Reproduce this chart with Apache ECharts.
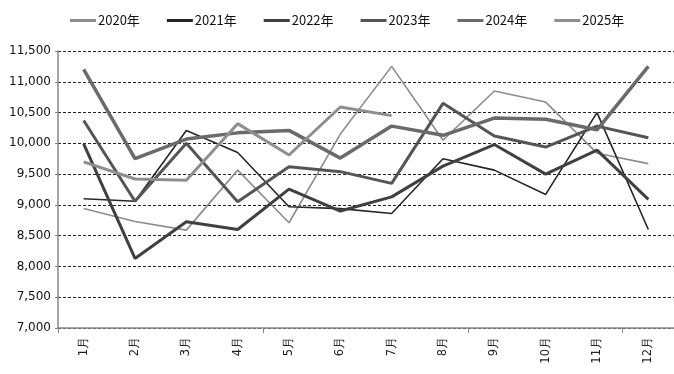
<!DOCTYPE html>
<html><head><meta charset="utf-8">
<script src="https://cdn.jsdelivr.net/npm/echarts@6/dist/echarts.min.js"></script>
<style>html,body{margin:0;padding:0;background:#fff}#c{width:674px;height:374px}</style>
</head><body><div id="c"></div>
<script>
const categories = ['1月','2月','3月','4月','5月','6月','7月','8月','9月','10月','11月','12月'];
const y2020 = [8940, 8730, 8590, 9565, 8710, 10150, 11250, 10050, 10850, 10670, 9840, 9670];
const y2021 = [9100, 9060, 10210, 9850, 8970, 8940, 8860, 9750, 9565, 9170, 10500, 8600];
const y2022 = [9990, 8130, 8725, 8600, 9255, 8900, 9130, 9630, 9980, 9500, 9890, 9090];
const y2023 = [10370, 9060, 10000, 9050, 9620, 9540, 9350, 10650, 10120, 9940, 10280, 10090];
const y2024 = [11200, 9750, 10070, 10170, 10210, 9760, 10280, 10130, 10410, 10390, 10220, 11250];
const y2025 = [9700, 9420, 9400, 10320, 9810, 10590, 10450];
const yTicks = [7000, 11500, 500];

const chart = echarts.init(document.getElementById('c'), null, {renderer:'canvas'});
function s(name, data, color, width){
  return {name, type:'line', data, symbol:'none', smooth:false,
    lineStyle:{color, width}, itemStyle:{color}, emphasis:{disabled:true}};
}
chart.setOption({
  animation:false,
  legend:{top:9, left:65, itemWidth:26, itemHeight:3, itemGap:27,
    icon:'rect',
    textStyle:{fontFamily:'Noto Sans CJK SC', fontSize:13, color:'#111', padding:[0,0,0,-3]},
    data:['2020年','2021年','2022年','2023年','2024年','2025年']},
  grid:{left:58, right:0, top:51, bottom:46},
  xAxis:{type:'category', data:categories, boundaryGap:true,
    axisLine:{lineStyle:{color:'#888', width:1.5}},
    axisTick:{show:true, interval:3, length:5, lineStyle:{color:'#888'}},
    axisLabel:{rotate:90, interval:0, fontFamily:'DejaVu Sans', fontSize:11.5, color:'#222', margin:9}},
  yAxis:{type:'value', min:yTicks[0], max:yTicks[1], interval:yTicks[2],
    axisLine:{show:true, lineStyle:{color:'#888', width:1.5}},
    axisTick:{show:true, length:3, lineStyle:{color:'#888'}},
    splitLine:{lineStyle:{color:'#222', type:[3,2], width:1}},
    axisLabel:{fontFamily:'DejaVu Sans', fontSize:12, color:'#111', margin:7,
      formatter:v=>v.toLocaleString('en-US')}},
  series:[
    s('2020年', y2020, '#8c8c8c', 1.6),
    s('2021年', y2021, '#262626', 1.6),
    s('2022年', y2022, '#404040', 3),
    s('2023年', y2023, '#555555', 3),
    s('2024年', y2024, '#6a6a6a', 3.5),
    s('2025年', y2025, '#8e8e8e', 3)
  ]
});
</script></body></html>
